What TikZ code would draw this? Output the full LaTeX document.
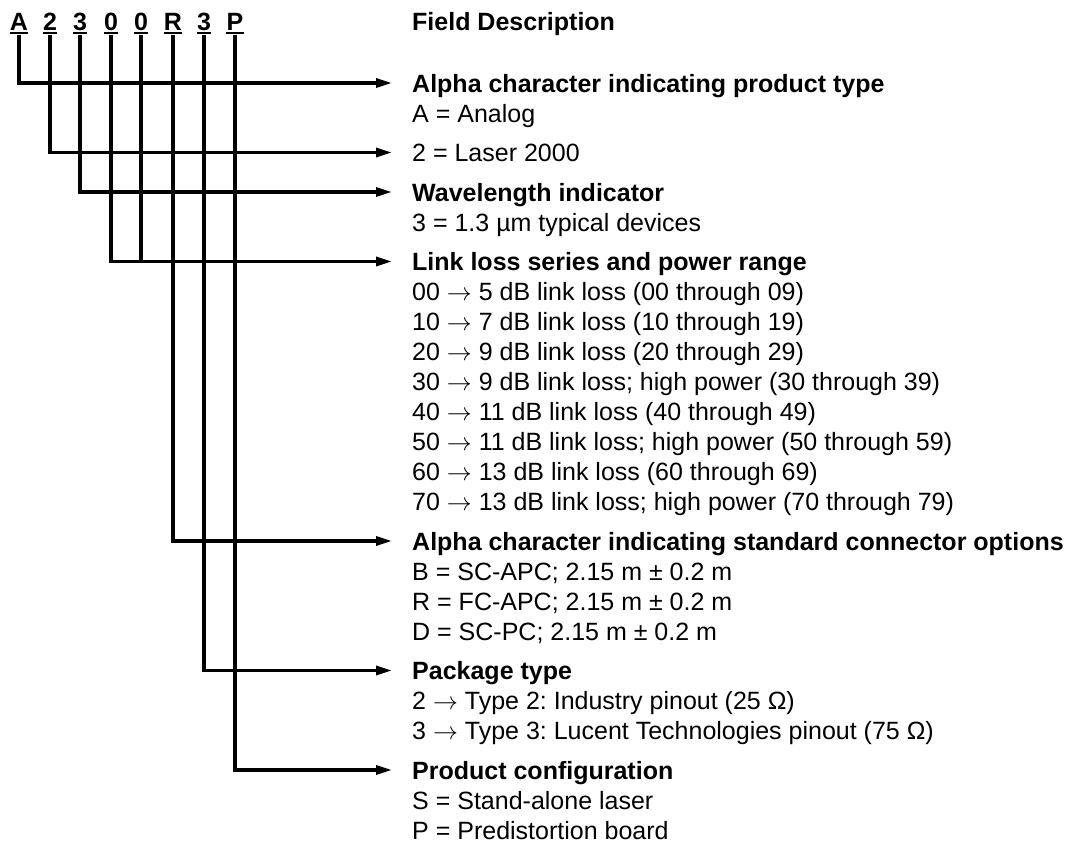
\documentclass[tikz,border=0pt]{standalone}
\usepackage{fontspec}
\setmainfont{Liberation Sans}
\usetikzlibrary{arrows.meta}
\frenchspacing
\begin{document}
\begin{tikzpicture}[x=1pt,y=1pt,
  txt/.style={anchor=base west, inner sep=0pt, font=\fontsize{25}{30}\selectfont\frenchspacing},
  head/.style={anchor=base west, inner sep=0pt, font=\fontsize{25}{30}\selectfont\bfseries\frenchspacing},
  letter/.style={anchor=base, inner sep=0pt, font=\fontsize{25}{30}\selectfont\bfseries},
  conn/.style={line width=3.2pt, -{Triangle[length=16pt,width=9pt]}},
  plainline/.style={line width=3.2pt},
  uline/.style={line width=2.4pt}]
\useasboundingbox (0,0) rectangle (1075,-852);

% code letters
\node[letter] (c1) at (19,-30) {A};
\node[letter] (c2) at (50,-30) {2};
\node[letter] (c3) at (80,-30) {3};
\node[letter] (c4) at (111,-30) {0};
\node[letter] (c5) at (141,-30) {0};
\node[letter] (c6) at (173,-30) {R};
\node[letter] (c7) at (204,-30) {3};
\node[letter] (c8) at (235,-30) {P};
\foreach \c in {c1,c2,c3,c4,c5,c6,c7,c8}
  \draw[uline] ([yshift=-3pt]\c.base west) -- ([yshift=-3pt]\c.base east);

% texts (baseline = line centre + 9)
\node[head] (title) at (412,-30) {Field Description};

\node[head] (h1) at (412,-92) {Alpha character indicating product type};
\node[txt] (t1a) at (412,-122) {A = Analog};

\node[txt] (h2) at (412,-161.5) {2 = Laser 2000};

\node[head] (h3) at (412,-201) {Wavelength indicator};
\node[txt] (t3a) at (412,-231) {3 = 1.3 µm typical devices};

\node[head] (h4) at (412,-270.5) {Link loss series and power range};
\node[txt] (t4a) at (412,-300.5) {00 $\rightarrow$ 5 dB link loss (00 through 09)};
\node[txt] (t4b) at (412,-330.5) {10 $\rightarrow$ 7 dB link loss (10 through 19)};
\node[txt] (t4c) at (412,-360.5) {20 $\rightarrow$ 9 dB link loss (20 through 29)};
\node[txt] (t4d) at (412,-390.5) {30 $\rightarrow$ 9 dB link loss; high power (30 through 39)};
\node[txt] (t4e) at (412,-420.5) {40 $\rightarrow$ 11 dB link loss (40 through 49)};
\node[txt] (t4f) at (412,-450.5) {50 $\rightarrow$ 11 dB link loss; high power (50 through 59)};
\node[txt] (t4g) at (412,-480.5) {60 $\rightarrow$ 13 dB link loss (60 through 69)};
\node[txt] (t4h) at (412,-510.5) {70 $\rightarrow$ 13 dB link loss; high power (70 through 79)};

\node[head] (h5) at (412,-550) {Alpha character indicating standard connector options};
\node[txt] (t5a) at (412,-580) {B = SC-APC; 2.15 m ± 0.2 m};
\node[txt] (t5b) at (412,-610) {R = FC-APC; 2.15 m ± 0.2 m};
\node[txt] (t5c) at (412,-640) {D = SC-PC; 2.15 m ± 0.2 m};

\node[head] (h6) at (412,-679.5) {Package type};
\node[txt] (t6a) at (412,-709.5) {2 $\rightarrow$ Type 2: Industry pinout (25 Ω)};
\node[txt] (t6b) at (412,-739.5) {3 $\rightarrow$ Type 3: Lucent Technologies pinout (75 Ω)};

\node[head] (h7) at (412,-779) {Product configuration};
\node[txt] (t7a) at (412,-809) {S = Stand-alone laser};
\node[txt] (t7b) at (412,-839) {P = Predistortion board};

% arrow targets just left of each heading
\foreach \h in {h1,h2,h3,h4,h5,h6,h7}
  \coordinate (a\h) at ([xshift=-20pt,yshift=9pt]\h.base west);

% connectors
\draw[conn] ([yshift=-5pt]c1.base) |- (ah1);
\draw[conn] ([yshift=-5pt]c2.base) |- (ah2);
\draw[conn] ([yshift=-5pt]c3.base) |- (ah3);
\draw[conn] ([yshift=-5pt]c4.base) |- (ah4);
\draw[plainline] ([yshift=-5pt]c5.base) -- (c5.base |- ah4);
\draw[conn] ([yshift=-5pt]c6.base) |- (ah5);
\draw[conn] ([yshift=-5pt]c7.base) |- (ah6);
\draw[conn] ([yshift=-5pt]c8.base) |- (ah7);
\end{tikzpicture}
\end{document}
